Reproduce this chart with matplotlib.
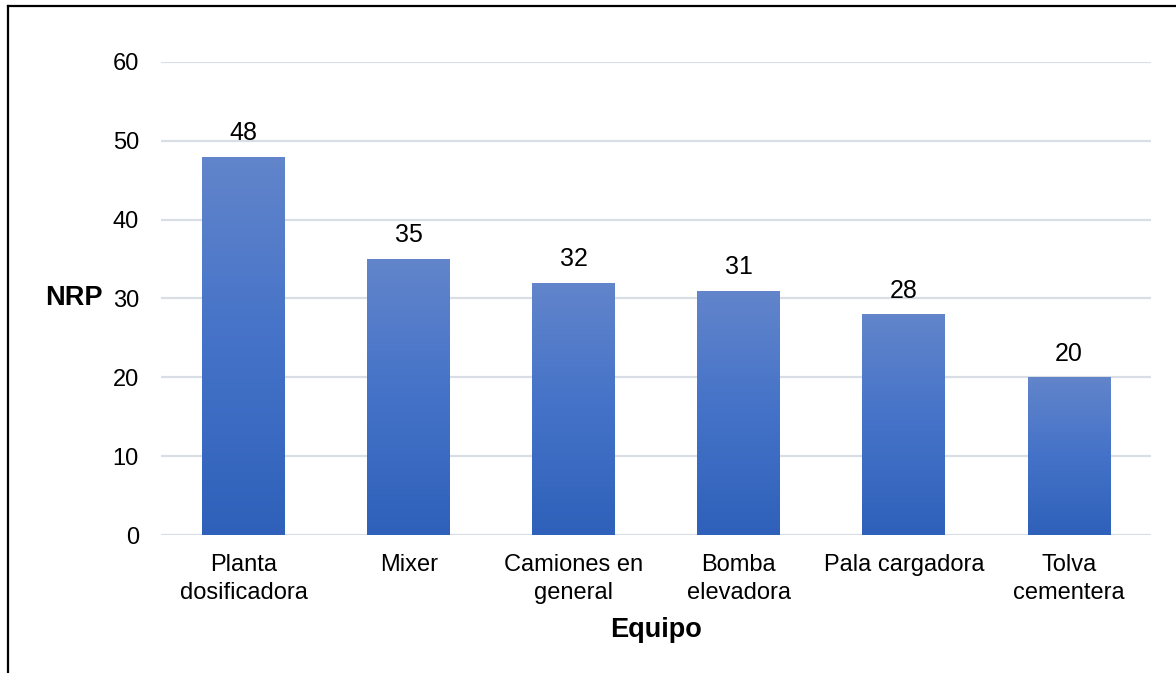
import numpy as np
import matplotlib
matplotlib.use('Agg')
import matplotlib.pyplot as plt
from matplotlib.colors import LinearSegmentedColormap
from matplotlib.lines import Line2D

# datos del grafico
equipos = ['Planta\ndosificadora', 'Mixer', 'Camiones en\ngeneral',
           'Bomba\nelevadora', 'Pala cargadora', 'Tolva\ncementera']
nrp     = [48, 35, 32, 31, 28, 20]
yticks  = [0, 10, 20, 30, 40, 50, 60]

plt.rcParams['font.family'] = ['Liberation Sans', 'DejaVu Sans']
FS = 17
FS_LAB = 19.5

fig = plt.figure(figsize=(11.76, 6.73), dpi=100)
ax = fig.add_axes([0.137, 0.205, 0.842, 0.703])

x = np.arange(len(equipos))
bars = ax.bar(x, nrp, width=0.5, color='none', zorder=3)

# degradado vertical por barra (claro arriba, oscuro abajo)
cmap = LinearSegmentedColormap.from_list('azul', ['#2F61BA', '#4472C8', '#6285CB'])
grad = np.linspace(0, 1, 256).reshape(-1, 1)
for b in bars:
    x0, w, h = b.get_x(), b.get_width(), b.get_height()
    im = ax.imshow(grad, cmap=cmap, origin='lower', aspect='auto',
                   extent=[x0, x0 + w, 0, h], zorder=3)
    im.set_clip_path(b)

for xi, v in zip(x, nrp):
    ax.annotate(f'{v}', (xi, v), xytext=(0, 12), textcoords='offset points',
                ha='center', va='baseline', fontsize=18)

ax.set_xlim(-0.5, len(equipos) - 0.5)
ax.set_ylim(0, 60)
ax.set_yticks(yticks)
ax.set_xticks(x)
ax.set_xticklabels(equipos, fontsize=FS, linespacing=1.3)
ax.tick_params(axis='y', labelsize=FS, length=0, pad=16)
ax.tick_params(axis='x', length=0, pad=14)
ax.grid(axis='y', color='#D9DEE5', lw=1.6, zorder=0)
ax.set_axisbelow(True)
for s in ax.spines.values():
    s.set_visible(False)

ax.set_ylabel('NRP', fontsize=FS_LAB, fontweight='bold', rotation=0,
              va='center', ha='center')
ax.yaxis.set_label_coords(-0.088, 0.5)
ax.set_xlabel('Equipo', fontsize=FS_LAB, fontweight='bold', va='center')
ax.xaxis.set_label_coords(0.5, -0.2)

# borde del cuadro (solo izquierda y arriba visibles)
W, H = 1176, 673
fig.add_artist(Line2D([8 / W, 8 / W], [0, 1 - 6 / H], color='black', lw=1.6,
                      transform=fig.transFigure))
fig.add_artist(Line2D([8 / W, 1], [1 - 6 / H, 1 - 6 / H], color='black', lw=1.6,
                      transform=fig.transFigure))

fig.savefig('out.png', dpi=100)
